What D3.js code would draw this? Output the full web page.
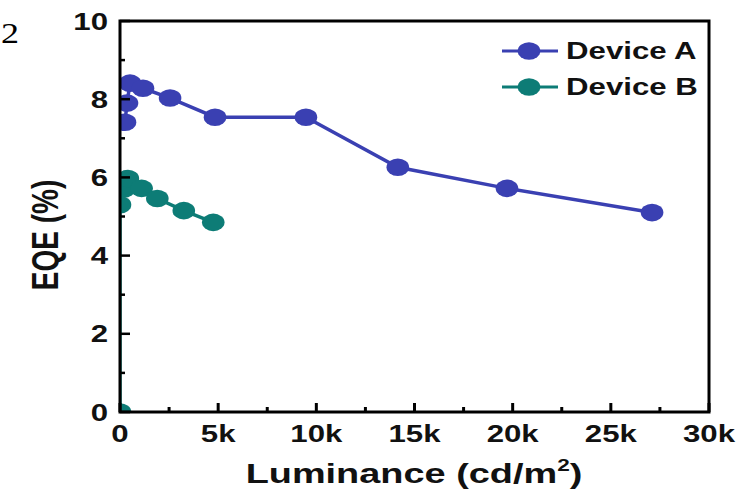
<!DOCTYPE html>
<html><head><meta charset="utf-8">
<script src="https://cdn.jsdelivr.net/npm/d3@7"></script>
<style>body{margin:0;background:#fff;} svg{display:block;}</style>
</head><body>
<script>
// Data (luminance in cd/m², EQE in %)
const seriesNames = ["Device A", "Device B"];
const lumA = [255, 357, 510, 1170, 2550, 4840, 9470, 14150, 19710, 27100];
const eqeA = [7.41, 7.90, 8.41, 8.28, 8.03, 7.54, 7.54, 6.26, 5.72, 5.10];
const lumB = [0, 0, 200, 400, 1100, 1900, 3250, 4750];
const eqeB = [0, 5.30, 5.70, 5.97, 5.72, 5.46, 5.15, 4.85];
const xTicks = [0, 5000, 10000, 15000, 20000, 25000, 30000];
const xTickLabels = ["0", "5k", "10k", "15k", "20k", "25k", "30k"];
const yTicks = [0, 2, 4, 6, 8, 10];
const colors = ["#3a40b2", "#0d7c76"];

const W = 746, H = 494;
const m = {left: 120, right: 709, top: 21, bottom: 412};
const SX = 1.3; // horizontal stretch of the original figure
const svg = d3.select("body").append("svg").attr("width", W).attr("height", H);
const font = "'Liberation Sans', Arial, sans-serif";

const x = d3.scaleLinear().domain([0, 30000]).range([m.left, m.right]);
const y = d3.scaleLinear().domain([0, 10]).range([m.bottom, m.top]);

function stext(parent, tx, ty, size, anchor, str, sx) {
  return parent.append("text")
    .attr("transform", `translate(${tx},${ty}) scale(${sx || SX},1)`)
    .attr("text-anchor", anchor).attr("font-family", font).attr("font-weight", "bold")
    .attr("font-size", size).attr("fill", "#111").text(str);
}

svg.append("defs").append("clipPath").attr("id", "clip")
  .append("rect").attr("x", m.left).attr("y", m.top)
  .attr("width", m.right - m.left).attr("height", m.bottom - m.top);

// stray page number
svg.append("text").attr("transform", "translate(1,43) scale(1.2,1)")
  .attr("font-family", "'Liberation Serif', serif").attr("font-size", 30).text("2");

const data = [
  lumA.map((l, i) => [l, eqeA[i]]),
  lumB.map((l, i) => [l, eqeB[i]])
];

const g = svg.append("g").attr("clip-path", "url(#clip)");
const line = d3.line().x(d => x(d[0])).y(d => y(d[1]));
data.forEach((ser, k) => {
  g.append("path").datum(ser).attr("d", line).attr("fill", "none")
    .attr("stroke", colors[k]).attr("stroke-width", 3.5);
  g.selectAll(null).data(ser).enter().append("ellipse")
    .attr("cx", d => x(d[0])).attr("cy", d => y(d[1])).attr("rx", 11.3).attr("ry", 8.8)
    .attr("fill", colors[k]);
});

// frame
svg.append("rect").attr("x", m.left).attr("y", m.top)
  .attr("width", m.right - m.left).attr("height", m.bottom - m.top)
  .attr("fill", "none").attr("stroke", "#000").attr("stroke-width", 3);

// x axis ticks (inward)
const xMinor = d3.range(2500, 30000, 5000);
const xa = svg.append("g");
xa.selectAll(null).data(xTicks).enter().append("line")
  .attr("x1", d => x(d)).attr("x2", d => x(d)).attr("y1", m.bottom).attr("y2", m.bottom - 9)
  .attr("stroke", "#000").attr("stroke-width", 3);
xa.selectAll(null).data(xMinor).enter().append("line")
  .attr("x1", d => x(d)).attr("x2", d => x(d)).attr("y1", m.bottom).attr("y2", m.bottom - 5)
  .attr("stroke", "#000").attr("stroke-width", 3);
xTicks.forEach((d, i) => stext(xa, x(d), 442, 24, "middle", xTickLabels[i]));

// y axis ticks (inward)
const yMinor = d3.range(1, 10, 2);
const ya = svg.append("g");
ya.selectAll(null).data(yTicks).enter().append("line")
  .attr("x1", m.left).attr("x2", m.left + 10).attr("y1", d => y(d)).attr("y2", d => y(d))
  .attr("stroke", "#000").attr("stroke-width", 2.5);
ya.selectAll(null).data(yMinor).enter().append("line")
  .attr("x1", m.left).attr("x2", m.left + 5).attr("y1", d => y(d)).attr("y2", d => y(d))
  .attr("stroke", "#000").attr("stroke-width", 2.5);
yTicks.forEach(d => stext(ya, 108, y(d) + 8.5, 24, "end", String(d)));

// axis titles
const xt = svg.append("text").attr("transform", `translate(414,483) scale(1.33,1)`)
  .attr("text-anchor", "middle")
  .attr("font-family", font).attr("font-weight", "bold").attr("font-size", 28.5).attr("fill", "#111");
xt.append("tspan").text("Luminance (cd/m");
xt.append("tspan").attr("font-size", 17).attr("dy", -12).text("2");
xt.append("tspan").attr("dy", 12).text(")");

svg.append("text").attr("transform", `translate(58,235) scale(${SX},1) rotate(-90)`)
  .attr("text-anchor", "middle")
  .attr("font-family", font).attr("font-weight", "bold").attr("font-size", 28).attr("fill", "#111")
  .text("EQE (%)");

// legend
const legY = [51, 87];
seriesNames.forEach((name, k) => {
  const ly = legY[k];
  const lg = svg.append("g");
  lg.append("line").attr("x1", 502).attr("x2", 558).attr("y1", ly).attr("y2", ly)
    .attr("stroke", colors[k]).attr("stroke-width", 3);
  lg.append("ellipse").attr("cx", 529).attr("cy", ly).attr("rx", 11.3).attr("ry", 8.8).attr("fill", colors[k]);
  stext(lg, 566, ly + 8, 24, "start", name);
});
</script>
</body></html>
